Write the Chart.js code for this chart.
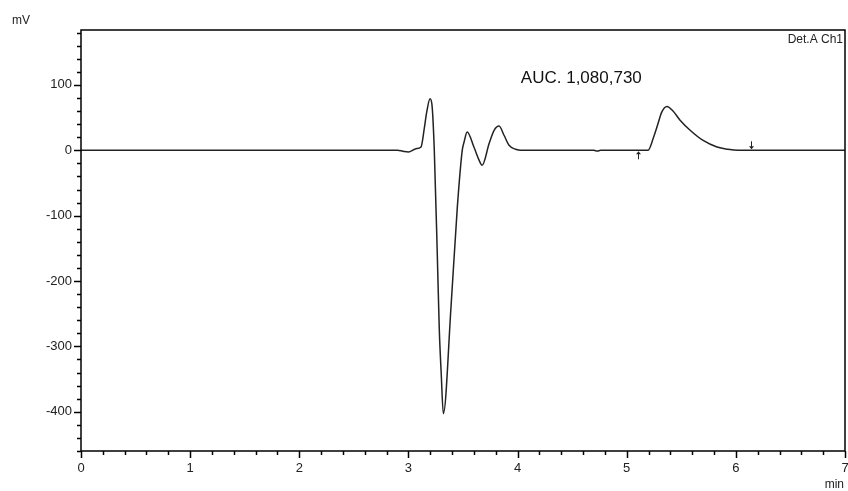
<!DOCTYPE html>
<html lang="en">
<head>
    <meta charset="UTF-8">
    <title>Chromatogram Det.A Ch1</title>
    <script src="https://cdn.jsdelivr.net/npm/chart.js"></script>
    <style>
        html, body { margin: 0; padding: 0; background: #fff; }
        .wrap { position: relative; width: 848px; height: 491px; }
    </style>
</head>
<body>
    <div class="wrap">
        <canvas id="chrom" width="848" height="491"></canvas>
    </div>

    <script>
        // Retention time (min) and signal (mV)
        const times = [0, 2.9, 2.95, 3.0, 3.07, 3.115, 3.145, 3.167, 3.198, 3.216, 3.237, 3.265, 3.283, 3.3, 3.32,
                       3.39, 3.448, 3.493, 3.51, 3.538, 3.6, 3.647, 3.675, 3.74, 3.785, 3.83, 3.876, 3.922, 3.983, 4.03,
                       4.7, 4.73, 4.76, 5.195, 5.25, 5.287, 5.32, 5.369, 5.424, 5.489, 5.581, 5.7, 5.827, 5.928, 6.02, 7];
        const signal = [0, 0, -1.5, -2.5, 2.5, 5, 33, 58, 79, 69, 0, -163, -275, -340, -403,
                        -240, -87, 0, 12.7, 28, 5, -15, -23, 10.7, 30.5, 37, 23, 7.6, 1.5, 0,
                        0, -1.2, 0, 0, 22, 41, 58, 67, 60, 46, 30.6, 15, 5, 1.5, 0, 0];

        const xTickLabels = [0, 1, 2, 3, 4, 5, 6, 7];
        const yTickLabels = [-400, -300, -200, -100, 0, 100];

        // integration markers: start (up arrow) and end (down arrow)
        const markerTimes = [5.1, 6.14];
        const markerDirs = ['up', 'down'];

        const aucLabel = 'AUC. 1,080,730';
        const detLabel = 'Det.A Ch1';

        const points = times.map((t, i) => ({ x: t, y: signal[i] }));

        const FONT = "'Liberation Sans', Arial, sans-serif";

        // frame, custom tick marks, arrows and texts
        const decorPlugin = {
            id: 'decor',
            afterDraw(chart) {
                const { ctx, chartArea: a, scales: { x, y } } = chart;
                ctx.save();
                ctx.strokeStyle = '#000';
                ctx.lineWidth = 1.5;
                ctx.strokeRect(a.left, a.top, a.right - a.left, a.bottom - a.top);

                // y ticks: major every 100, minor every 20
                for (let v = -460; v <= 184; v += 20) {
                    const py = Math.round(y.getPixelForValue(v)) + 0.5;
                    const len = v % 100 === 0 ? 7 : 4;
                    ctx.beginPath();
                    ctx.moveTo(a.left - len, py);
                    ctx.lineTo(a.left, py);
                    ctx.stroke();
                }
                // x ticks: major every 1, minor every 0.2
                for (let i = 0; i <= 35; i++) {
                    const px = Math.round(x.getPixelForValue(i * 0.2)) + 0.5;
                    const len = i % 5 === 0 ? 7 : 4;
                    ctx.beginPath();
                    ctx.moveTo(px, a.bottom);
                    ctx.lineTo(px, a.bottom + len);
                    ctx.stroke();
                }

                // integration arrows
                ctx.lineWidth = 1;
                ctx.strokeStyle = '#222';
                ctx.fillStyle = '#222';
                markerTimes.forEach((t, i) => {
                    const px = Math.round(x.getPixelForValue(t)) + 0.5;
                    const py0 = y.getPixelForValue(0);
                    const s = markerDirs[i] === 'up' ? 1 : -1;
                    ctx.beginPath();
                    ctx.moveTo(px, py0 + s * 9);
                    ctx.lineTo(px, py0 + s * 2);
                    ctx.stroke();
                    ctx.beginPath();
                    ctx.moveTo(px - 2.5, py0 + s * 4);
                    ctx.lineTo(px, py0 + s * 1);
                    ctx.lineTo(px + 2.5, py0 + s * 4);
                    ctx.fill();
                });

                // texts
                ctx.fillStyle = '#222';
                ctx.font = '12px ' + FONT;
                ctx.textBaseline = 'alphabetic';
                ctx.textAlign = 'left';
                ctx.fillText('mV', 12, 24);
                ctx.textAlign = 'right';
                ctx.fillText(detLabel, a.right - 2, a.top + 13);
                ctx.fillText('min', a.right - 1, 488);

                ctx.textAlign = 'left';
                ctx.font = '17px ' + FONT;
                ctx.fillStyle = '#111';
                ctx.fillText(aucLabel, x.getPixelForValue(4.03), y.getPixelForValue(103));
                ctx.restore();
            }
        };

        new Chart(document.getElementById('chrom'), {
            type: 'line',
            data: {
                datasets: [{
                    data: points,
                    borderColor: '#222',
                    borderWidth: 1.5,
                    pointRadius: 0,
                    fill: false,
                    cubicInterpolationMode: 'monotone'
                }]
            },
            options: {
                responsive: false,
                animation: false,
                events: [],
                layout: { padding: { top: 30, right: 3, left: 0, bottom: 0 } },
                plugins: {
                    legend: { display: false },
                    tooltip: { enabled: false }
                },
                scales: {
                    x: {
                        type: 'linear',
                        min: 0,
                        max: 7,
                        afterBuildTicks(scale) {
                            scale.ticks = xTickLabels.map(v => ({ value: v }));
                        },
                        afterFit(scale) {
                            scale.height = 40;
                            scale.paddingLeft = 0;
                            scale.paddingRight = 0;
                        },
                        grid: { display: false, drawTicks: false },
                        border: { display: false },
                        ticks: {
                            padding: 10,
                            color: '#222',
                            font: { family: FONT, size: 13 }
                        }
                    },
                    y: {
                        type: 'linear',
                        min: -460,
                        max: 184,
                        afterBuildTicks(scale) {
                            scale.ticks = yTickLabels.map(v => ({ value: v }));
                        },
                        afterFit(scale) {
                            scale.width = 81;
                            scale.paddingTop = 0;
                            scale.paddingBottom = 0;
                        },
                        grid: { display: false, drawTicks: false },
                        border: { display: false },
                        ticks: {
                            padding: 9,
                            color: '#222',
                            font: { family: FONT, size: 13 }
                        }
                    }
                }
            },
            plugins: [decorPlugin]
        });
    </script>
</body>
</html>
